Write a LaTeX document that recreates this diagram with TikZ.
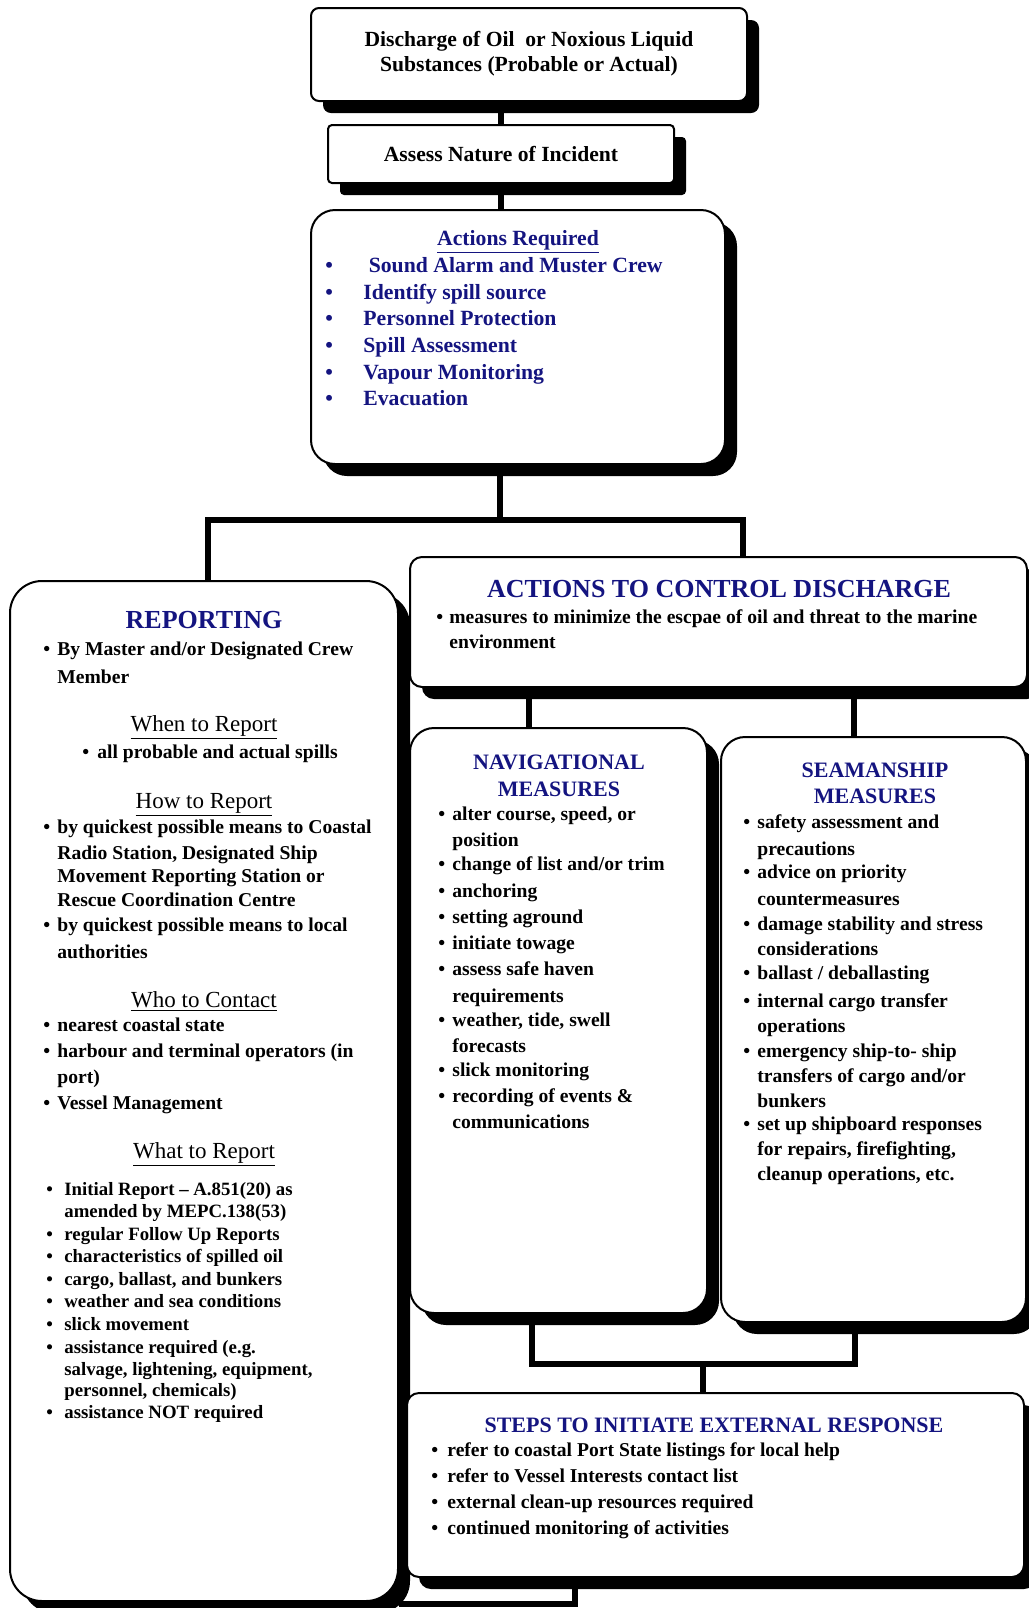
\documentclass[tikz,border=0pt]{standalone}
\usepackage{fontspec}
\setmainfont{Liberation Serif}
\usepackage{xcolor}
\usetikzlibrary{positioning,shadows,backgrounds,calc}
\definecolor{ink}{RGB}{0,0,0}
\definecolor{navy}{RGB}{20,20,128}
\tikzset{
  shbox/.style={draw=ink, fill=white, line width=1pt, inner sep=0pt,
    drop shadow={shadow xshift=6pt, shadow yshift=-6pt, opacity=1, fill=ink}},
  hd/.style={font=\bfseries\fontsize{10.8}{12.5}\selectfont, text=ink, inner sep=0pt},
  ttl/.style={font=\bfseries\fontsize{13}{15}\selectfont, text=navy, inner sep=0pt},
  sttl/.style={font=\bfseries\fontsize{11}{13}\selectfont, text=navy, inner sep=0pt},
  atxt/.style={font=\bfseries\fontsize{10.85}{13}\selectfont, text=navy, inner sep=0pt},
  sub/.style={font=\fontsize{11.5}{13}\selectfont, text=ink, inner sep=0pt},
  txt/.style={font=\bfseries\fontsize{9.8}{11}\selectfont, text=ink, inner sep=0pt},
  stxt/.style={font=\bfseries\fontsize{9.4}{11}\selectfont, text=ink, inner sep=0pt},
  conn/.style={draw=ink, line width=2.6pt},
}
% bullet x, text x, style, name prefix, list of y/bullet/text
\newcommand{\putlines}[5]{%
  \foreach \ly/\lb/\lt [count=\li] in {#5}{%
    \ifnum\lb=1
      \node[#3, anchor=base west] (#4b\li) at (#1,\ly) {\textbullet};
    \fi
    \node[#3, anchor=base west] (#4\li) at (#2,\ly) {\lt};
  }}

\begin{document}
\begin{tikzpicture}[x=0.5pt,y=-0.5pt]
  \useasboundingbox (0,0) rectangle (1029,1608);
  % boxes
  \node[shbox, rounded corners=4pt, minimum width=218pt, minimum height=46.5pt] (disch) at (529,54.5) {};
  \node[hd, anchor=base] (discht1) at (529,46.5) {Discharge of Oil~ or Noxious Liquid};
  \node[hd, anchor=base] (discht2) at (529,71.5) {Substances (Probable or Actual)};
  \node[shbox, rounded corners=2pt, minimum width=173pt, minimum height=29pt] (assess) at (501,154) {};
  \node[hd, anchor=base] (assesst) at (501,161.5) {Assess Nature of Incident};
  \node[shbox, rounded corners=12pt, minimum width=207pt, minimum height=127pt] (actreq) at (518,337) {};
  \node[shbox, rounded corners=16pt, minimum width=194pt, minimum height=510pt] (rep) at (204,1091) {};
  \node[shbox, rounded corners=6pt, minimum width=308.5pt, minimum height=65pt] (ctl) at (718.5,622) {};
  \node[shbox, rounded corners=12pt, minimum width=148.5pt, minimum height=292.5pt] (nav) at (558.5,1020.5) {};
  \node[shbox, rounded corners=12pt, minimum width=152.5pt, minimum height=292.5pt] (seam) at (873.5,1029.5) {};
  \node[shbox, rounded corners=6pt, minimum width=308.5pt, minimum height=92pt] (steps) at (715.5,1485) {};

  % connectors
  \begin{scope}[on background layer]
    \draw[conn] (disch.south -| assess) -- (assess.north);
    \draw[conn] (assess.south) -- (assess.south |- actreq.north);
    \coordinate (split) at (500,520);
    \coordinate (splitl) at (208,520);
    \coordinate (splitr) at (743,520);
    \draw[conn] (actreq.south -| split) -- (split);
    \draw[conn] (rep.north -| splitl) -- (splitl) -- (splitr) -- (ctl.north -| splitr);
    \coordinate (navtop) at (529,710);
    \coordinate (seamtop) at (854,710);
    \draw[conn] (ctl.south -| navtop) -- (nav.north -| navtop);
    \draw[conn] (ctl.south -| seamtop) -- (seam.north -| seamtop);
    \coordinate (joinl) at (532,1364);
    \coordinate (joinr) at (855,1364);
    \coordinate (joinm) at (703,1364);
    \draw[conn] (nav.south -| joinl) -- (joinl) -- (joinr) -- (seam.south -| joinr);
    \draw[conn] (joinm) -- (steps.north -| joinm);
    \coordinate (tail) at (575,1604);
    \draw[conn] (steps.south -| tail) -- (tail) -- (tail -| rep.east);
  \end{scope}

  % actions required
  \node[atxt, anchor=base] (areqt) at (518,245) {\underline{Actions Required}};
  \putlines{325}{363}{atxt}{areq}{272/1/{\ Sound Alarm and Muster Crew}, 299/1/{Identify spill source},
    325/1/{Personnel Protection}, 352/1/{Spill Assessment}, 379/1/{Vapour Monitoring}, 405/1/{Evacuation}}

  % reporting
  \node[ttl, anchor=base] (rept) at (204,628) {REPORTING};
  \putlines{43}{57}{txt}{repby}{655/1/{By Master and/or Designated Crew}, 683/0/{Member}}
  \node[sub, anchor=base] (whent) at (204,731) {\underline{When to Report}};
  \putlines{82}{97}{txt}{when}{758/1/{all probable and actual spills}}
  \node[sub, anchor=base] (howt) at (204,808) {\underline{How to Report}};
  \putlines{43}{57}{txt}{how}{833/1/{by quickest possible means to Coastal}, 859/0/{Radio Station, Designated Ship},
    882/0/{Movement Reporting Station or}, 906/0/{Rescue Coordination Centre},
    931/1/{by quickest possible means to local}, 958/0/{authorities}}
  \node[sub, anchor=base] (whot) at (204,1007) {\underline{Who to Contact}};
  \putlines{43}{57}{txt}{who}{1031/1/{nearest coastal state}, 1057/1/{harbour and terminal operators (in},
    1083/0/{port)}, 1109/1/{Vessel Management}}
  \node[sub, anchor=base] (whatt) at (204,1158) {\underline{What to Report}};
  \putlines{46}{64}{stxt}{what}{1195/1/{Initial Report – A.851(20) as}, 1217/0/{amended by MEPC.138(53)},
    1240/1/{regular Follow Up Reports}, 1262/1/{characteristics of spilled oil},
    1285/1/{cargo, ballast, and bunkers}, 1307/1/{weather and sea conditions},
    1330/1/{slick movement}, 1353/1/{assistance required (e.g.},
    1375/0/{salvage, lightening, equipment,}, 1396/0/{personnel, chemicals)},
    1418/1/{assistance NOT required}}

  % actions to control discharge
  \node[ttl, anchor=base] (ctlt) at (719,597) {ACTIONS TO CONTROL DISCHARGE};
  \putlines{436}{449}{txt}{ctlm}{623/1/{measures to minimize the escpae of oil and threat to the marine},
    648/0/{environment}}

  % navigational measures
  \node[sttl, anchor=base] (navt1) at (559,769) {NAVIGATIONAL};
  \node[sttl, anchor=base] (navt2) at (559,796) {MEASURES};
  \putlines{438}{452}{txt}{navm}{820/1/{alter course, speed, or}, 846/0/{position},
    870/1/{change of list and/or trim}, 897/1/{anchoring}, 923/1/{setting aground},
    949/1/{initiate towage}, 975/1/{assess safe haven}, 1002/0/{requirements},
    1026/1/{weather, tide, swell}, 1052/0/{forecasts}, 1076/1/{slick monitoring},
    1102/1/{recording of events \&}, 1128/0/{communications}}

  % seamanship measures
  \node[sttl, anchor=base] (seamt1) at (875,777) {SEAMANSHIP};
  \node[sttl, anchor=base] (seamt2) at (875,803) {MEASURES};
  \putlines{743}{757}{txt}{seamm}{828/1/{safety assessment and}, 855/0/{precautions},
    878/1/{advice on priority}, 905/0/{countermeasures},
    930/1/{damage stability and stress}, 955/0/{considerations},
    979/1/{ballast / deballasting}, 1007/1/{internal cargo transfer}, 1032/0/{operations},
    1057/1/{emergency ship-to- ship}, 1082/0/{transfers of cargo and/or}, 1107/0/{bunkers},
    1130/1/{set up shipboard responses}, 1155/0/{for repairs, firefighting,},
    1180/0/{cleanup operations, etc.}}

  % external response
  \node[sttl, anchor=base] (stepst) at (714,1432) {STEPS TO INITIATE EXTERNAL RESPONSE};
  \putlines{431}{447}{txt}{stepm}{1456/1/{refer to coastal Port State listings for local help},
    1482/1/{refer to Vessel Interests contact list}, 1508/1/{external clean-up resources required},
    1534/1/{continued monitoring of activities}}
\end{tikzpicture}
\end{document}
